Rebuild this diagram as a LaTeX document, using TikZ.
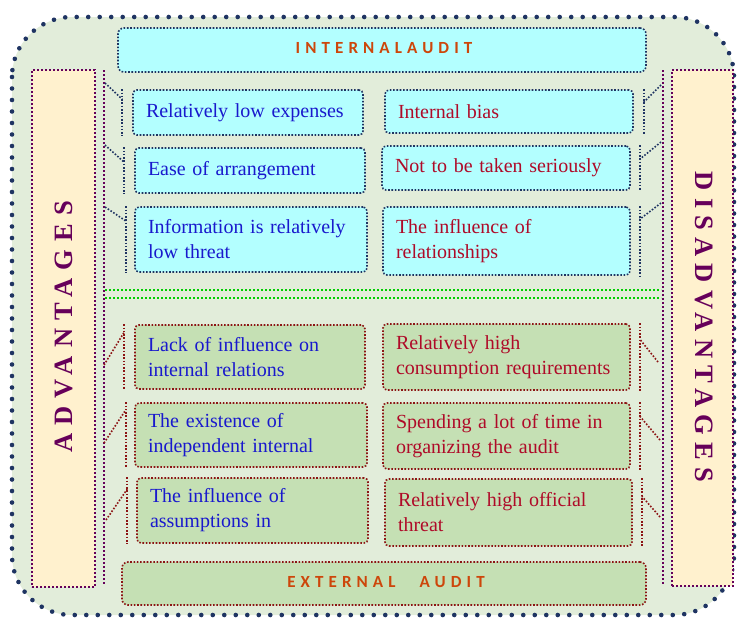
\documentclass[tikz,border=0pt]{standalone}
\usepackage{fontspec}
\setmainfont{Liberation Serif}
\newfontfamily\headfont[LetterSpace=30]{Carlito}
\newfontfamily\sidefont[LetterSpace=30]{Liberation Serif}
\newfontfamily\sidefontb[LetterSpace=27]{Liberation Serif}

\definecolor{pagegreen}{RGB}{226,237,218}
\definecolor{cyanfill}{RGB}{179,255,255}
\definecolor{greenfill}{RGB}{197,224,180}
\definecolor{tanfill}{RGB}{255,241,206}
\definecolor{navy}{RGB}{31,52,98}
\definecolor{plum}{RGB}{102,0,90}
\definecolor{darkred}{RGB}{140,20,20}
\definecolor{bluetext}{RGB}{25,25,205}
\definecolor{redtext}{RGB}{175,10,40}
\definecolor{titleorange}{RGB}{205,70,10}
\definecolor{sepgreen}{RGB}{0,205,0}

\tikzset{
  fine/.style={line width=1.6pt, dash pattern=on 1.6pt off 1.7pt},
  topbox/.style={fine, draw=navy, fill=cyanfill, rounded corners=4pt,
    inner xsep=13pt, inner ysep=0pt, align=left, text=#1,
    font=\fontsize{20}{25}\selectfont},
  botbox/.style={fine, draw=darkred, fill=greenfill, rounded corners=4pt,
    inner xsep=13pt, inner ysep=0pt, align=left, text=#1,
    font=\fontsize{20}{25}\selectfont},
  toplink/.style={fine, draw=navy},
  botlink/.style={fine, draw=darkred},
  spine/.style={line width=2.1pt, draw=plum, dash pattern=on 2pt off 2pt},
  sidebox/.style={line width=2.1pt, draw=plum, fill=tanfill,
    dash pattern=on 2pt off 2pt},
  sidetext/.style={text=plum, font=\fontsize{26.5}{30}\selectfont\bfseries},
  headtext/.style={text=titleorange, font=\fontsize{17}{19}\selectfont\headfont\bfseries},
}

\newcommand{\boxat}[7]{% name, style, colour, x1, y1, x2, y2, text follows
  \node[#2=#3, minimum width={#6-#4}, minimum height={#7-#5},
        text width={#6-#4-26}] (#1) at ({(#4+#6)/2},{(#5+#7)/2})}

\begin{document}
\begin{tikzpicture}[x=1pt, y=-1pt]
\useasboundingbox (0,0) rectangle (738,619);

% outer panel
\fill[pagegreen, rounded corners=60pt] (12,17) rectangle (734,615);
\draw[navy, line width=4.6pt, line cap=round, dash pattern=on 0pt off 11.5pt,
      rounded corners=60pt] (12,17) rectangle (734,615);

% side columns
\node[sidebox, minimum width=63pt, minimum height=517pt] (advcol) at (63.5,328.5) {};
\node[sidebox, minimum width=61pt, minimum height=516pt] (discol) at (702.5,328) {};
\node[sidetext, rotate=90] (advlabel) at (64,327) {\sidefont ADVANTAGES};
\node[sidetext, rotate=-90] (dislabel) at (704,327) {\sidefontb DISADVANTAGES};

% spines
\coordinate (lsTop) at (104,70);  \coordinate (lsBot) at (104,585);
\coordinate (rsTop) at (663,70);  \coordinate (rsBot) at (663,584);
\draw[spine] (lsTop) -- (lsBot);
\draw[spine] (rsTop) -- (rsBot);

% separator
\coordinate (sepA1) at (105,290); \coordinate (sepB1) at (661,290);
\coordinate (sepA2) at (105,298); \coordinate (sepB2) at (661,298);
\draw[sepgreen, line width=2.2pt, dash pattern=on 2pt off 2pt] (sepA1) -- (sepB1);
\draw[sepgreen, line width=2.2pt, dash pattern=on 2pt off 2pt] (sepA2) -- (sepB2);

% headers
\node[fine, draw=navy, fill=cyanfill, rounded corners=6pt,
      minimum width=528pt, minimum height=44pt] (intbox) at (382,50) {};
\node[headtext] (inttext) at (384,48) {INTERNALAUDIT};
\node[fine, draw=darkred, fill=greenfill, rounded corners=6pt,
      minimum width=524pt, minimum height=43pt] (extbox) at (384,583.5) {};
\node[headtext] (exttext) at (386,582) {EXTERNAL\hspace{24pt}AUDIT};

% internal audit: advantages
\boxat{t1}{topbox}{bluetext}{133}{90}{363}{135} {Relatively low expenses};
\boxat{t2}{topbox}{bluetext}{135}{148}{365}{193} {Ease of arrangement};
\boxat{t3}{topbox}{bluetext}{135}{207}{367}{272} {Information is relatively\\low threat};
% internal audit: disadvantages
\boxat{r1}{topbox}{redtext}{385}{90}{633}{133} {Internal bias};
\boxat{r2}{topbox}{redtext}{382}{146}{630}{190} {Not to be taken seriously};
\boxat{r3}{topbox}{redtext}{383}{207}{630}{275} {The influence of\\relationships};
% external audit: advantages
\boxat{l4}{botbox}{bluetext}{135}{325}{365}{389} {Lack of influence on\\internal relations};
\boxat{l5}{botbox}{bluetext}{135}{403}{367}{467} {The existence of\\independent internal};
\boxat{l6}{botbox}{bluetext}{137}{478}{368}{543} {The influence of\\assumptions in};
% external audit: disadvantages
\boxat{r4}{botbox}{redtext}{383}{324}{630}{390} {Relatively high\\consumption requirements};
\boxat{r5}{botbox}{redtext}{383}{403}{630}{469} {Spending a lot of time in\\organizing the audit};
\boxat{r6}{botbox}{redtext}{385}{479}{632}{546} {Relatively high official\\threat};

% brackets joining each box to its spine
\coordinate (s1) at (105,83);  \coordinate (s2) at (105,145); \coordinate (s3) at (105,207);
\draw[toplink] ([xshift=-10pt]t1.north west) -- ([xshift=-10pt]t1.south west);
\draw[toplink] (s1) -- ([xshift=-10pt,yshift=-10pt]t1.north west);
\draw[toplink] ([xshift=-10pt]t2.north west) -- ([xshift=-10pt]t2.south west);
\draw[toplink] (s2) -- ([xshift=-10pt,yshift=-15pt]t2.north west);
\draw[toplink] ([xshift=-8pt]t3.north west) -- ([xshift=-8pt]t3.south west);
\draw[toplink] (s3) -- ([xshift=-8pt,yshift=-15pt]t3.north west);

\coordinate (s4) at (661,85);  \coordinate (s5) at (661,142); \coordinate (s6) at (661,203);
\draw[toplink] ([xshift=10pt]r1.north east) -- ([xshift=10pt]r1.south east);
\draw[toplink] (s4) -- ([xshift=10pt,yshift=-13pt]r1.north east);
\draw[toplink] ([xshift=9pt]r2.north east) -- ([xshift=9pt]r2.south east);
\draw[toplink] (s5) -- ([xshift=9pt,yshift=-14pt]r2.north east);
\draw[toplink] ([xshift=9pt]r3.north east) -- ([xshift=9pt]r3.south east);
\draw[toplink] (s6) -- ([xshift=9pt,yshift=-13pt]r3.north east);

\coordinate (s7) at (104,365); \coordinate (s8) at (104,443); \coordinate (s9) at (106,520);
\draw[botlink] ([xshift=-10pt]l4.north west) -- ([xshift=-10pt]l4.south west);
\draw[botlink] (s7) -- ([xshift=-10pt,yshift=-8pt]l4.north west);
\draw[botlink] ([xshift=-8pt]l5.north west) -- ([xshift=-8pt]l5.south west);
\draw[botlink] (s8) -- ([xshift=-8pt,yshift=-7pt]l5.north west);
\draw[botlink] ([xshift=-9pt]l6.north west) -- ([xshift=-9pt]l6.south west);
\draw[botlink] (s9) -- ([xshift=-9pt,yshift=-12pt]l6.north west);

\coordinate (s10) at (658,362); \coordinate (s11) at (660,440); \coordinate (s12) at (660,517);
\draw[botlink] ([xshift=9pt]r4.north east) -- ([xshift=9pt]r4.south east);
\draw[botlink] (s10) -- ([xshift=9pt,yshift=-16pt]r4.north east);
\draw[botlink] ([xshift=9pt]r5.north east) -- ([xshift=9pt]r5.south east);
\draw[botlink] (s11) -- ([xshift=9pt,yshift=-14pt]r5.north east);
\draw[botlink] ([xshift=9pt]r6.north east) -- ([xshift=9pt]r6.south east);
\draw[botlink] (s12) -- ([xshift=9pt,yshift=-18pt]r6.north east);
\end{tikzpicture}
\end{document}
